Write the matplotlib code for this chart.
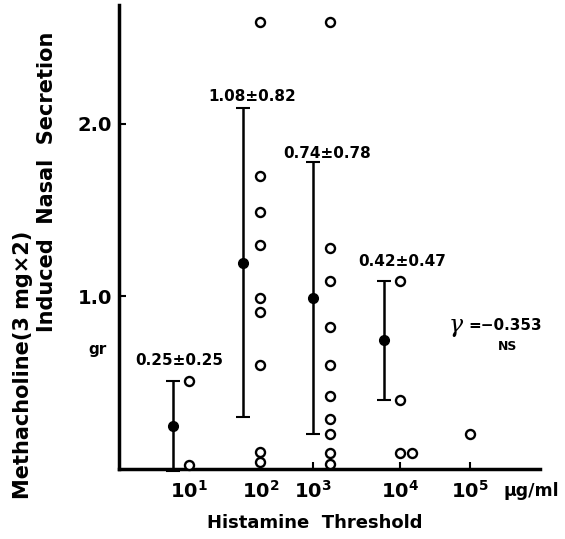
import matplotlib
matplotlib.use("Agg")
import matplotlib.pyplot as plt

plt.rcParams['font.family'] = ['DejaVu Sans']
plt.rcParams['font.weight'] = 'bold'

# x positions are in "drawn decade" units of the hand-made axis (10^1 ~ 1, 10^5 ~ 5)
tick_pos = [1.0, 2.02, 2.76, 4.0, 5.0]
tick_labels = ['$\\mathbf{10^1}$', '$\\mathbf{10^2}$', '$\\mathbf{10^3}$', '$\\mathbf{10^4}$', '$\\mathbf{10^5}$']

# group means with +-SD bars (as drawn)
mean_x = [0.77, 1.77, 2.76, 3.77]
mean_y = [0.25, 1.195, 0.99, 0.745]
mean_err = [0.26, 0.895, 0.79, 0.345]
mean_text = ['0.25±0.25', '1.08±0.82', '0.74±0.78', '0.42±0.47']
text_x = [0.86, 1.90, 2.97, 4.03]
text_y = [0.63, 2.16, 1.83, 1.20]

# individual cases (open circles)
pts_x = [1.0, 1.0,
         2.0, 2.0, 2.0, 2.0, 2.0, 2.0, 2.0, 2.0, 2.0,
         3.0, 3.0, 3.0, 3.0, 3.0, 3.0, 3.0, 3.0, 3.0, 3.0,
         4.0, 4.0, 4.0, 4.17,
         5.0]
pts_y = [0.51, 0.02,
         2.59, 1.70, 1.49, 1.30, 0.99, 0.91, 0.60, 0.10, 0.04,
         2.59, 1.28, 1.09, 0.82, 0.60, 0.42, 0.29, 0.20, 0.09, 0.03,
         1.09, 0.40, 0.09, 0.09,
         0.20]

fig = plt.figure(figsize=(5.65, 5.39), dpi=100)
ax = fig.add_axes([0.211, 0.130, 0.745, 0.861])

ax.errorbar(mean_x, mean_y, yerr=mean_err, fmt='o', color='black', ms=7,
            capsize=5, capthick=1.5, elinewidth=1.8, clip_on=False, zorder=3)
ax.plot(pts_x, pts_y, 'o', mfc='white', mec='black', ms=6.5, mew=1.7,
        linestyle='none', clip_on=False, zorder=4)

for t, x, y in zip(mean_text, text_x, text_y):
    ax.text(x, y, t, ha='center', va='center', fontsize=11, fontweight='bold')

ax.text(4.69, 0.83, 'γ', fontsize=17, family='DejaVu Serif', style='italic',
        fontweight='normal', ha='left', va='center')
ax.text(4.97, 0.83, '=−0.353', fontsize=11, fontweight='bold', ha='left', va='center')
ax.text(5.54, 0.71, 'NS', fontsize=9, fontweight='bold', ha='center', va='center')

ax.set_xlim(0, 6.0)
ax.set_ylim(0, 2.69)
ax.set_xticks(tick_pos)
ax.set_xticklabels(tick_labels, fontsize=14)
ax.set_yticks([1.0, 2.0])
ax.set_yticklabels(['1.0', '2.0'], fontsize=14, fontweight='bold')
ax.tick_params(axis='x', direction='in', length=5, width=1.5, pad=8)
ax.tick_params(axis='y', direction='in', length=5, width=1.5, pad=5)

for s in ['top', 'right']:
    ax.spines[s].set_visible(False)
for s in ['left', 'bottom']:
    ax.spines[s].set_linewidth(2.5)

ax.text(-0.31, 0.69, 'gr', fontsize=11, fontweight='bold', ha='center', va='center')
ax.text(5.48, -0.13, 'μg/ml', fontsize=12.5, fontweight='bold', ha='left', va='center',
        clip_on=False)

fig.text(0.557, 0.030, 'Histamine  Threshold', fontsize=13, fontweight='bold',
         ha='center', va='center')
fig.text(0.040, 0.323, 'Methacholine(3 mg×2)', fontsize=15, fontweight='bold',
         rotation=90, ha='center', va='center')
fig.text(0.084, 0.662, 'Induced  Nasal  Secretion', fontsize=15, fontweight='bold',
         rotation=90, ha='center', va='center')

fig.savefig('out.png', dpi=100)
